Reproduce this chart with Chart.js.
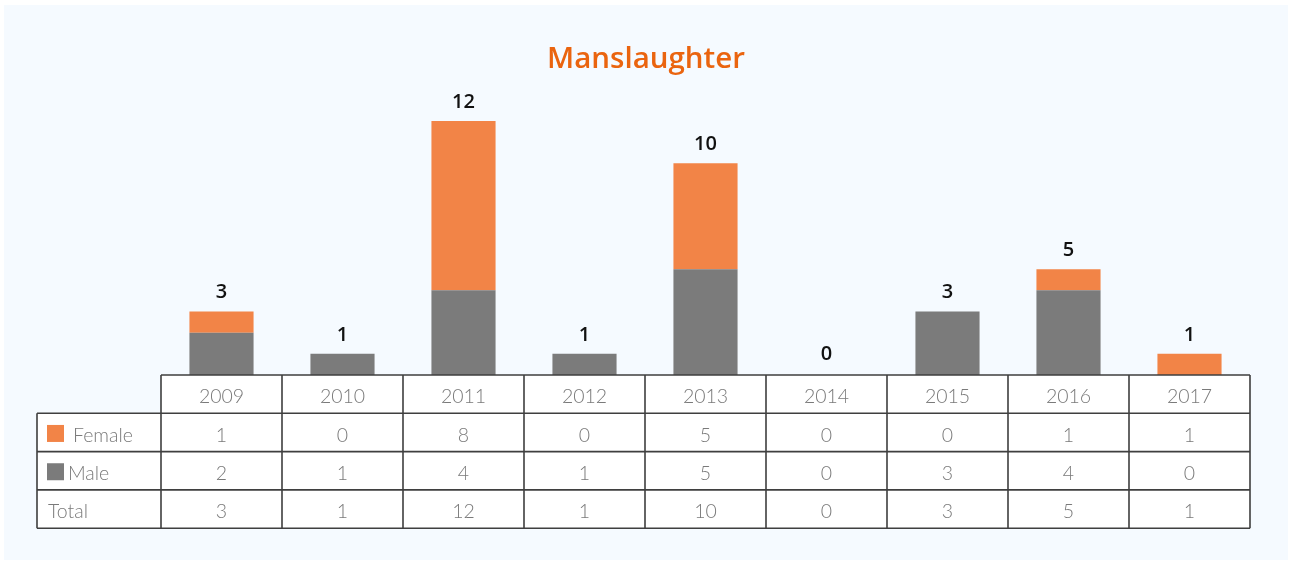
<!DOCTYPE html>
<html>
<head>
<meta charset="utf-8">
<script src="https://cdn.jsdelivr.net/npm/chart.js@4/dist/chart.umd.min.js"></script>
<style>
  html, body { margin: 0; padding: 0; background: #ffffff; }
  #wrap { position: relative; width: 1290px; height: 562px; }
</style>
</head>
<body>
<div id="wrap"><canvas id="c" width="1290" height="562"></canvas></div>
<script>
const years = ['2009','2010','2011','2012','2013','2014','2015','2016','2017'];
const female = [1, 0, 8, 0, 5, 0, 0, 1, 1];
const male = [2, 1, 4, 1, 5, 0, 3, 4, 0];
const totals = [3, 1, 12, 1, 10, 0, 3, 5, 1];
const titleText = 'Manslaughter';

const ORANGE = '#f28447';
const GRAY = '#7b7b7b';
const LINE = '#3f3f3f';
const TXT = '#7a7a7a';

const bgPlugin = {
  id: 'bg',
  beforeDraw(chart) {
    const ctx = chart.ctx;
    ctx.save();
    ctx.fillStyle = '#ffffff';
    ctx.fillRect(0, 0, chart.width, chart.height);
    ctx.fillStyle = '#f5faff';
    ctx.fillRect(4, 5, 1284, 555);
    ctx.restore();
  }
};

const overlayPlugin = {
  id: 'overlay',
  afterDraw(chart) {
    const ctx = chart.ctx;
    const xs = chart.scales.x;
    const ys = chart.scales.y;
    const area = chart.chartArea;
    ctx.save();
    // title
    ctx.fillStyle = '#ea640f';
    ctx.font = '600 29.5px "Open Sans"';
    ctx.textAlign = 'center';
    ctx.textBaseline = 'middle';
    ctx.fillText(titleText, 646, 60);

    // total labels
    ctx.fillStyle = '#111111';
    ctx.font = '600 20px "Open Sans"';
    totals.forEach((t, i) => {
      const x = xs.getPixelForValue(i);
      const y = ys.getPixelForValue(t);
      ctx.fillText(String(t), x, y - (t === 0 ? 21 : 19));
    });

    // table
    const colW = xs.getPixelForValue(1) - xs.getPixelForValue(0);
    const x0 = xs.getPixelForValue(0) - colW / 2;
    const x1 = xs.getPixelForValue(years.length - 1) + colW / 2;
    const labelLeft = 37;
    const top = area.bottom;
    const rowH = 38.3;
    const rows = [
      { label: 'Female', vals: female, color: ORANGE },
      { label: 'Male', vals: male, color: GRAY },
      { label: 'Total', vals: totals, color: null }
    ];
    // backgrounds
    ctx.fillStyle = '#ffffff';
    ctx.fillRect(x0, top, x1 - x0, rowH);
    ctx.fillRect(labelLeft, top + rowH, x1 - labelLeft, rowH * 3);

    ctx.strokeStyle = LINE;
    ctx.lineWidth = 1.6;
    ctx.beginPath();
    ctx.moveTo(x0, top); ctx.lineTo(x1, top);
    for (let r = 1; r <= 4; r++) {
      const y = top + rowH * r;
      ctx.moveTo(labelLeft, y); ctx.lineTo(x1, y);
    }
    ctx.moveTo(labelLeft, top + rowH); ctx.lineTo(labelLeft, top + rowH * 4);
    for (let i = 0; i <= years.length; i++) {
      const x = x0 + colW * i;
      ctx.moveTo(x, top); ctx.lineTo(x, top + rowH * 4);
    }
    ctx.stroke();

    ctx.font = '300 19.5px "Lato"';
    ctx.fillStyle = TXT;
    ctx.textAlign = 'center';
    ctx.textBaseline = 'middle';
    years.forEach((yr, i) => {
      ctx.fillText(yr, xs.getPixelForValue(i), top + rowH / 2 + 3);
    });
    rows.forEach((row, r) => {
      const cy = top + rowH * (r + 1) + rowH / 2 + 3;
      row.vals.forEach((v, i) => {
        ctx.fillStyle = TXT;
        ctx.textAlign = 'center';
        ctx.fillText(String(v), xs.getPixelForValue(i), cy);
      });
      ctx.textAlign = 'left';
      if (row.color) {
        ctx.fillStyle = row.color;
        ctx.fillRect(47, cy - 10.5, 17, 17);
        ctx.fillStyle = TXT;
        ctx.fillText(row.label, row.label === 'Female' ? 73 : 68, cy);
      } else {
        ctx.fillStyle = TXT;
        ctx.fillText(row.label, 48, cy);
      }
    });
    ctx.restore();
  }
};

new Chart(document.getElementById('c'), {
  type: 'bar',
  data: {
    labels: years,
    datasets: [
      { label: 'Male', data: male, backgroundColor: GRAY, stack: 's' },
      { label: 'Female', data: female, backgroundColor: ORANGE, stack: 's' }
    ]
  },
  options: {
    responsive: false,
    animation: false,
    events: [],
    layout: { padding: { top: 57.5, bottom: 187, left: 161, right: 40 } },
    datasets: { bar: { categoryPercentage: 1, barPercentage: 0.53 } },
    scales: {
      x: { stacked: true, display: false },
      y: { stacked: true, display: false, min: 0, max: 15 }
    },
    plugins: {
      legend: { display: false },
      title: { display: false },
      tooltip: { enabled: false }
    }
  },
  plugins: [bgPlugin, overlayPlugin]
});
</script>
</body>
</html>
